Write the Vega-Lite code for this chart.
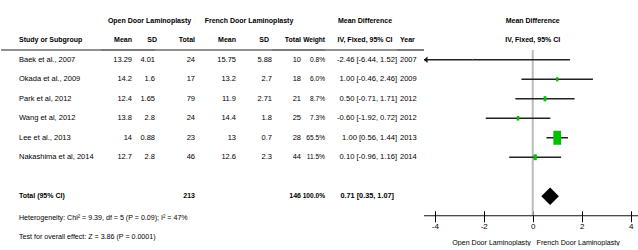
{
  "$schema": "https://vega.github.io/schema/vega-lite/v6.json",
  "background": "white",
  "padding": {"left": 0, "top": 11, "right": 0, "bottom": 0},
  "datasets": {
    "tbl": [
      {"row": "h1", "kind": "group", "og": "Open Door Laminoplasty", "fg": "French Door Laminoplasty", "mdh": "Mean Difference"},
      {"row": "h2", "kind": "head", "study": "Study or Subgroup", "om": "Mean", "osd": "SD", "on": "Total", "fm": "Mean", "fsd": "SD", "fn": "Total", "w": "Weight", "mdh": "IV, Fixed, 95% CI", "yr": "Year"},
      {"row": "Baek", "kind": "study", "study": "Baek et al., 2007", "om": 13.29, "osd": 4.01, "on": 24, "fm": 15.75, "fsd": 5.88, "fn": 10, "w": "0.8%", "wt": 0.8, "ci": "-2.46 [-6.44, 1.52]", "md": -2.46, "lo": -6.44, "hi": 1.52, "yr": 2007},
      {"row": "Okada", "kind": "study", "study": "Okada et al., 2009", "om": 14.2, "osd": 1.6, "on": 17, "fm": 13.2, "fsd": 2.7, "fn": 18, "w": "6.0%", "wt": 6.0, "ci": "1.00 [-0.46, 2.46]", "md": 1.0, "lo": -0.46, "hi": 2.46, "yr": 2009},
      {"row": "Park", "kind": "study", "study": "Park et al, 2012", "om": 12.4, "osd": 1.65, "on": 79, "fm": 11.9, "fsd": 2.71, "fn": 21, "w": "8.7%", "wt": 8.7, "ci": "0.50 [-0.71, 1.71]", "md": 0.5, "lo": -0.71, "hi": 1.71, "yr": 2012},
      {"row": "Wang", "kind": "study", "study": "Wang et al, 2012", "om": 13.8, "osd": 2.8, "on": 24, "fm": 14.4, "fsd": 1.8, "fn": 25, "w": "7.3%", "wt": 7.3, "ci": "-0.60 [-1.92, 0.72]", "md": -0.6, "lo": -1.92, "hi": 0.72, "yr": 2012},
      {"row": "Lee", "kind": "study", "study": "Lee et al., 2013", "om": 14, "osd": 0.88, "on": 23, "fm": 13, "fsd": 0.7, "fn": 28, "w": "65.5%", "wt": 65.5, "ci": "1.00 [0.56, 1.44]", "md": 1.0, "lo": 0.56, "hi": 1.44, "yr": 2013},
      {"row": "Naka", "kind": "study", "study": "Nakashima et al, 2014", "om": 12.7, "osd": 2.8, "on": 46, "fm": 12.6, "fsd": 2.3, "fn": 44, "w": "11.5%", "wt": 11.5, "ci": "0.10 [-0.96, 1.16]", "md": 0.1, "lo": -0.96, "hi": 1.16, "yr": 2014},
      {"row": "Total", "kind": "total", "study": "Total (95% CI)", "on": 213, "fn": 146, "w": "100.0%", "wt": 100, "ci": "0.71 [0.35, 1.07]", "md": 0.71, "lo": 0.35, "hi": 1.07},
      {"row": "Het", "kind": "note", "study": "Heterogeneity: Chi² = 9.39, df = 5 (P = 0.09); I² = 47%"},
      {"row": "Test", "kind": "note", "study": "Test for overall effect: Z = 3.86 (P = 0.0001)"}
    ]
  },
  "data": {"name": "tbl"},
  "spacing": 0,
  "bounds": "flush",
  "resolve": {"scale": {"x": "independent", "y": "independent"}},
  "hconcat": [
    {
      "width": 100, "height": 234,
      "layer": [
        {"data": {"values": [{}]}, "mark": {"type": "rule", "color": "#222", "strokeWidth": 1.2}, "encoding": {"y": {"datum": "Baek", "type": "nominal", "bandPosition": 0, "scale": {"type": "band", "domain": ["h1","h2","Baek","Okada","Park","Wang","Lee","Naka","blank","Total","Het","Test"], "paddingInner": 0, "paddingOuter": 0}, "axis": null}}},
        {"transform": [{"filter": "datum.kind=='study'"}], "mark": {"type": "text", "align": "left", "dx": 18, "fontSize": 7.5}, "encoding": {"x": {"value": 0}, "y": {"field": "row", "type": "nominal", "scale": {"type": "band", "domain": ["h1","h2","Baek","Okada","Park","Wang","Lee","Naka","blank","Total","Het","Test"], "paddingInner": 0, "paddingOuter": 0}, "axis": null}, "text": {"field": "study", "type": "nominal"}}},
        {"transform": [{"filter": "datum.kind=='note'"}], "mark": {"type": "text", "align": "left", "dx": 18, "dy": 2, "fontSize": 7.1}, "encoding": {"x": {"value": 0}, "y": {"field": "row", "type": "nominal", "scale": {"type": "band", "domain": ["h1","h2","Baek","Okada","Park","Wang","Lee","Naka","blank","Total","Het","Test"], "paddingInner": 0, "paddingOuter": 0}, "axis": null}, "text": {"field": "study", "type": "nominal"}}},
        {"transform": [{"filter": "datum.kind=='head'||datum.kind=='total'"}], "mark": {"type": "text", "align": "left", "dx": 18, "fontWeight": "bold", "fontSize": 7}, "encoding": {"x": {"value": 0}, "y": {"field": "row", "type": "nominal", "scale": {"type": "band", "domain": ["h1","h2","Baek","Okada","Park","Wang","Lee","Naka","blank","Total","Het","Test"], "paddingInner": 0, "paddingOuter": 0}, "axis": null}, "text": {"field": "study", "type": "nominal"}}}
      ]
    },
    {
      "width": 31, "height": 234,
      "layer": [
        {"data": {"values": [{}]}, "mark": {"type": "rule", "color": "#222", "strokeWidth": 1.2}, "encoding": {"y": {"datum": "Baek", "type": "nominal", "bandPosition": 0, "scale": {"type": "band", "domain": ["h1","h2","Baek","Okada","Park","Wang","Lee","Naka","blank","Total","Het","Test"], "paddingInner": 0, "paddingOuter": 0}, "axis": null}}},
        {"transform": [{"filter": "datum.kind=='study' && isValid(datum.om)"}], "mark": {"type": "text", "align": "right"}, "encoding": {"x": {"value": "width"}, "y": {"field": "row", "type": "nominal", "scale": {"type": "band", "domain": ["h1","h2","Baek","Okada","Park","Wang","Lee","Naka","blank","Total","Het","Test"], "paddingInner": 0, "paddingOuter": 0}, "axis": null}, "text": {"field": "om", "type": "nominal"}}},
        {"transform": [{"filter": "(datum.kind=='head'||datum.kind=='total') && isValid(datum.om)"}], "mark": {"type": "text", "align": "right", "fontWeight": "bold", "fontSize": 7}, "encoding": {"x": {"value": "width"}, "y": {"field": "row", "type": "nominal", "scale": {"type": "band", "domain": ["h1","h2","Baek","Okada","Park","Wang","Lee","Naka","blank","Total","Het","Test"], "paddingInner": 0, "paddingOuter": 0}, "axis": null}, "text": {"field": "om", "type": "nominal"}}}
      ]
    },
    {
      "width": 23, "height": 234,
      "layer": [
        {"data": {"values": [{}]}, "mark": {"type": "rule", "color": "#222", "strokeWidth": 1.2}, "encoding": {"y": {"datum": "Baek", "type": "nominal", "bandPosition": 0, "scale": {"type": "band", "domain": ["h1","h2","Baek","Okada","Park","Wang","Lee","Naka","blank","Total","Het","Test"], "paddingInner": 0, "paddingOuter": 0}, "axis": null}}},
        {"transform": [{"filter": "datum.kind=='study' && isValid(datum.osd)"}], "mark": {"type": "text", "align": "right"}, "encoding": {"x": {"value": "width"}, "y": {"field": "row", "type": "nominal", "scale": {"type": "band", "domain": ["h1","h2","Baek","Okada","Park","Wang","Lee","Naka","blank","Total","Het","Test"], "paddingInner": 0, "paddingOuter": 0}, "axis": null}, "text": {"field": "osd", "type": "nominal"}}},
        {"transform": [{"filter": "(datum.kind=='head'||datum.kind=='total') && isValid(datum.osd)"}], "mark": {"type": "text", "align": "right", "fontWeight": "bold", "fontSize": 7, "dx": 2}, "encoding": {"x": {"value": "width"}, "y": {"field": "row", "type": "nominal", "scale": {"type": "band", "domain": ["h1","h2","Baek","Okada","Park","Wang","Lee","Naka","blank","Total","Het","Test"], "paddingInner": 0, "paddingOuter": 0}, "axis": null}, "text": {"field": "osd", "type": "nominal"}}},
        {"transform": [{"filter": "datum.kind=='group' && isValid(datum.og)"}], "mark": {"type": "text", "align": "center", "dx": 6, "fontWeight": "bold", "fontSize": 7}, "encoding": {"y": {"field": "row", "type": "nominal", "scale": {"type": "band", "domain": ["h1","h2","Baek","Okada","Park","Wang","Lee","Naka","blank","Total","Het","Test"], "paddingInner": 0, "paddingOuter": 0}, "axis": null}, "text": {"field": "og", "type": "nominal"}}}
      ]
    },
    {
      "width": 40, "height": 234,
      "layer": [
        {"data": {"values": [{}]}, "mark": {"type": "rule", "color": "#222", "strokeWidth": 1.2}, "encoding": {"y": {"datum": "Baek", "type": "nominal", "bandPosition": 0, "scale": {"type": "band", "domain": ["h1","h2","Baek","Okada","Park","Wang","Lee","Naka","blank","Total","Het","Test"], "paddingInner": 0, "paddingOuter": 0}, "axis": null}}},
        {"transform": [{"filter": "datum.kind=='study' && isValid(datum.on)"}], "mark": {"type": "text", "align": "right"}, "encoding": {"x": {"value": "width"}, "y": {"field": "row", "type": "nominal", "scale": {"type": "band", "domain": ["h1","h2","Baek","Okada","Park","Wang","Lee","Naka","blank","Total","Het","Test"], "paddingInner": 0, "paddingOuter": 0}, "axis": null}, "text": {"field": "on", "type": "nominal"}}},
        {"transform": [{"filter": "(datum.kind=='head'||datum.kind=='total') && isValid(datum.on)"}], "mark": {"type": "text", "align": "right", "fontWeight": "bold", "fontSize": 7}, "encoding": {"x": {"value": "width"}, "y": {"field": "row", "type": "nominal", "scale": {"type": "band", "domain": ["h1","h2","Baek","Okada","Park","Wang","Lee","Naka","blank","Total","Het","Test"], "paddingInner": 0, "paddingOuter": 0}, "axis": null}, "text": {"field": "on", "type": "nominal"}}}
      ]
    },
    {
      "width": 41, "height": 234,
      "layer": [
        {"data": {"values": [{}]}, "mark": {"type": "rule", "color": "#222", "strokeWidth": 1.2}, "encoding": {"y": {"datum": "Baek", "type": "nominal", "bandPosition": 0, "scale": {"type": "band", "domain": ["h1","h2","Baek","Okada","Park","Wang","Lee","Naka","blank","Total","Het","Test"], "paddingInner": 0, "paddingOuter": 0}, "axis": null}}},
        {"transform": [{"filter": "datum.kind=='study' && isValid(datum.fm)"}], "mark": {"type": "text", "align": "right"}, "encoding": {"x": {"value": "width"}, "y": {"field": "row", "type": "nominal", "scale": {"type": "band", "domain": ["h1","h2","Baek","Okada","Park","Wang","Lee","Naka","blank","Total","Het","Test"], "paddingInner": 0, "paddingOuter": 0}, "axis": null}, "text": {"field": "fm", "type": "nominal"}}},
        {"transform": [{"filter": "(datum.kind=='head'||datum.kind=='total') && isValid(datum.fm)"}], "mark": {"type": "text", "align": "right", "fontWeight": "bold", "fontSize": 7}, "encoding": {"x": {"value": "width"}, "y": {"field": "row", "type": "nominal", "scale": {"type": "band", "domain": ["h1","h2","Baek","Okada","Park","Wang","Lee","Naka","blank","Total","Het","Test"], "paddingInner": 0, "paddingOuter": 0}, "axis": null}, "text": {"field": "fm", "type": "nominal"}}}
      ]
    },
    {
      "width": 36, "height": 234,
      "layer": [
        {"data": {"values": [{}]}, "mark": {"type": "rule", "color": "#222", "strokeWidth": 1.2}, "encoding": {"y": {"datum": "Baek", "type": "nominal", "bandPosition": 0, "scale": {"type": "band", "domain": ["h1","h2","Baek","Okada","Park","Wang","Lee","Naka","blank","Total","Het","Test"], "paddingInner": 0, "paddingOuter": 0}, "axis": null}}},
        {"transform": [{"filter": "datum.kind=='study' && isValid(datum.fsd)"}], "mark": {"type": "text", "align": "right"}, "encoding": {"x": {"value": "width"}, "y": {"field": "row", "type": "nominal", "scale": {"type": "band", "domain": ["h1","h2","Baek","Okada","Park","Wang","Lee","Naka","blank","Total","Het","Test"], "paddingInner": 0, "paddingOuter": 0}, "axis": null}, "text": {"field": "fsd", "type": "nominal"}}},
        {"transform": [{"filter": "(datum.kind=='head'||datum.kind=='total') && isValid(datum.fsd)"}], "mark": {"type": "text", "align": "right", "fontWeight": "bold", "fontSize": 7, "dx": -3}, "encoding": {"x": {"value": "width"}, "y": {"field": "row", "type": "nominal", "scale": {"type": "band", "domain": ["h1","h2","Baek","Okada","Park","Wang","Lee","Naka","blank","Total","Het","Test"], "paddingInner": 0, "paddingOuter": 0}, "axis": null}, "text": {"field": "fsd", "type": "nominal"}}},
        {"transform": [{"filter": "datum.kind=='group' && isValid(datum.fg)"}], "mark": {"type": "text", "align": "center", "dx": -5, "fontWeight": "bold", "fontSize": 7}, "encoding": {"y": {"field": "row", "type": "nominal", "scale": {"type": "band", "domain": ["h1","h2","Baek","Okada","Park","Wang","Lee","Naka","blank","Total","Het","Test"], "paddingInner": 0, "paddingOuter": 0}, "axis": null}, "text": {"field": "fg", "type": "nominal"}}}
      ]
    },
    {
      "width": 29, "height": 234,
      "layer": [
        {"data": {"values": [{}]}, "mark": {"type": "rule", "color": "#222", "strokeWidth": 1.2}, "encoding": {"y": {"datum": "Baek", "type": "nominal", "bandPosition": 0, "scale": {"type": "band", "domain": ["h1","h2","Baek","Okada","Park","Wang","Lee","Naka","blank","Total","Het","Test"], "paddingInner": 0, "paddingOuter": 0}, "axis": null}}},
        {"transform": [{"filter": "datum.kind=='study' && isValid(datum.fn)"}], "mark": {"type": "text", "align": "right"}, "encoding": {"x": {"value": "width"}, "y": {"field": "row", "type": "nominal", "scale": {"type": "band", "domain": ["h1","h2","Baek","Okada","Park","Wang","Lee","Naka","blank","Total","Het","Test"], "paddingInner": 0, "paddingOuter": 0}, "axis": null}, "text": {"field": "fn", "type": "nominal"}}},
        {"transform": [{"filter": "(datum.kind=='head'||datum.kind=='total') && isValid(datum.fn)"}], "mark": {"type": "text", "align": "right", "fontWeight": "bold", "fontSize": 7}, "encoding": {"x": {"value": "width"}, "y": {"field": "row", "type": "nominal", "scale": {"type": "band", "domain": ["h1","h2","Baek","Okada","Park","Wang","Lee","Naka","blank","Total","Het","Test"], "paddingInner": 0, "paddingOuter": 0}, "axis": null}, "text": {"field": "fn", "type": "nominal"}}}
      ]
    },
    {
      "width": 24, "height": 234,
      "layer": [
        {"data": {"values": [{}]}, "mark": {"type": "rule", "color": "#222", "strokeWidth": 1.2}, "encoding": {"y": {"datum": "Baek", "type": "nominal", "bandPosition": 0, "scale": {"type": "band", "domain": ["h1","h2","Baek","Okada","Park","Wang","Lee","Naka","blank","Total","Het","Test"], "paddingInner": 0, "paddingOuter": 0}, "axis": null}}},
        {"transform": [{"filter": "datum.kind=='study' && isValid(datum.w)"}], "mark": {"type": "text", "align": "right", "fontSize": 6.6}, "encoding": {"x": {"value": "width"}, "y": {"field": "row", "type": "nominal", "scale": {"type": "band", "domain": ["h1","h2","Baek","Okada","Park","Wang","Lee","Naka","blank","Total","Het","Test"], "paddingInner": 0, "paddingOuter": 0}, "axis": null}, "text": {"field": "w", "type": "nominal"}}},
        {"transform": [{"filter": "(datum.kind=='head'||datum.kind=='total') && isValid(datum.w)"}], "mark": {"type": "text", "align": "right", "fontWeight": "bold", "fontSize": 6.6}, "encoding": {"x": {"value": "width"}, "y": {"field": "row", "type": "nominal", "scale": {"type": "band", "domain": ["h1","h2","Baek","Okada","Park","Wang","Lee","Naka","blank","Total","Het","Test"], "paddingInner": 0, "paddingOuter": 0}, "axis": null}, "text": {"field": "w", "type": "nominal"}}}
      ]
    },
    {
      "width": 72, "height": 234,
      "layer": [
        {"data": {"values": [{}]}, "mark": {"type": "rule", "color": "#222", "strokeWidth": 1.2}, "encoding": {"y": {"datum": "Baek", "type": "nominal", "bandPosition": 0, "scale": {"type": "band", "domain": ["h1","h2","Baek","Okada","Park","Wang","Lee","Naka","blank","Total","Het","Test"], "paddingInner": 0, "paddingOuter": 0}, "axis": null}}},
        {"transform": [{"filter": "datum.kind=='study' && isValid(datum.ci)"}], "mark": {"type": "text", "align": "right", "fontSize": 7.6}, "encoding": {"x": {"value": "width"}, "y": {"field": "row", "type": "nominal", "scale": {"type": "band", "domain": ["h1","h2","Baek","Okada","Park","Wang","Lee","Naka","blank","Total","Het","Test"], "paddingInner": 0, "paddingOuter": 0}, "axis": null}, "text": {"field": "ci", "type": "nominal"}}},
        {"transform": [{"filter": "datum.kind=='total' && isValid(datum.ci)"}], "mark": {"type": "text", "align": "right", "fontWeight": "bold", "fontSize": 7.3, "dx": -3}, "encoding": {"x": {"value": "width"}, "y": {"field": "row", "type": "nominal", "scale": {"type": "band", "domain": ["h1","h2","Baek","Okada","Park","Wang","Lee","Naka","blank","Total","Het","Test"], "paddingInner": 0, "paddingOuter": 0}, "axis": null}, "text": {"field": "ci", "type": "nominal"}}},
        {"transform": [{"filter": "(datum.kind=='group'||datum.kind=='head') && isValid(datum.mdh)"}], "mark": {"type": "text", "align": "center", "dx": 4, "fontWeight": "bold", "fontSize": 7}, "encoding": {"y": {"field": "row", "type": "nominal", "scale": {"type": "band", "domain": ["h1","h2","Baek","Okada","Park","Wang","Lee","Naka","blank","Total","Het","Test"], "paddingInner": 0, "paddingOuter": 0}, "axis": null}, "text": {"field": "mdh", "type": "nominal"}}}
      ]
    },
    {
      "width": 27, "height": 234,
      "layer": [
        {"data": {"values": [{}]}, "mark": {"type": "rule", "color": "#222", "strokeWidth": 1.2}, "encoding": {"y": {"datum": "Baek", "type": "nominal", "bandPosition": 0, "scale": {"type": "band", "domain": ["h1","h2","Baek","Okada","Park","Wang","Lee","Naka","blank","Total","Het","Test"], "paddingInner": 0, "paddingOuter": 0}, "axis": null}}},
        {"transform": [{"filter": "datum.kind=='study' && isValid(datum.yr)"}], "mark": {"type": "text", "align": "left", "dx": 3}, "encoding": {"x": {"value": 0}, "y": {"field": "row", "type": "nominal", "scale": {"type": "band", "domain": ["h1","h2","Baek","Okada","Park","Wang","Lee","Naka","blank","Total","Het","Test"], "paddingInner": 0, "paddingOuter": 0}, "axis": null}, "text": {"field": "yr", "type": "nominal"}}},
        {"transform": [{"filter": "datum.kind=='head' && isValid(datum.yr)"}], "mark": {"type": "text", "align": "left", "dx": 3, "fontWeight": "bold", "fontSize": 7}, "encoding": {"x": {"value": 0}, "y": {"field": "row", "type": "nominal", "scale": {"type": "band", "domain": ["h1","h2","Baek","Okada","Park","Wang","Lee","Naka","blank","Total","Het","Test"], "paddingInner": 0, "paddingOuter": 0}, "axis": null}, "text": {"field": "yr", "type": "nominal"}}}
      ]
    },
    {
      "width": 215, "height": 204.75,
      "layer": [
        {"data": {"values": [{}]}, "mark": {"type": "rule", "color": "#bbbbbb", "strokeWidth": 2}, "encoding": {"x": {"datum": 0, "type": "quantitative", "scale": {"domain": [-4.44, 4.34], "nice": false, "zero": false, "clamp": true},
                "axis": {"values": [-4, -2, 0, 2, 4], "domain": false, "grid": false, "tickSize": 11, "offset": -5, "tickColor": "#000", "tickWidth": 1, "labelFontSize": 8, "labelColor": "#000", "labelPadding": 1, "labelExpr": "'' + datum.value", "title": "Open Door Laminoplasty\u00a0\u00a0\u00a0French Door Laminoplasty", "titleFontSize": 7.1, "titleFontWeight": "normal", "titleColor": "#000", "titlePadding": 8, "titleX": 111.5}}, "y": {"datum": "Baek", "type": "nominal", "bandPosition": 0, "scale": {"type": "band", "domain": ["h1","h2","Baek","Okada","Park","Wang","Lee","Naka","blank","Total"], "paddingInner": 0, "paddingOuter": 0.25, "align": 0}, "axis": null}, "y2": {"value": "height"}}},
        {"data": {"values": [{}]}, "mark": {"type": "rule", "color": "#111", "strokeWidth": 1.2}, "encoding": {"y": {"value": "height"}}},
        {"transform": [{"filter": "datum.kind=='study'"}], "mark": {"type": "rule", "color": "#222", "strokeWidth": 1.5}, "encoding": {
          "x": {"field": "lo", "type": "quantitative", "scale": {"domain": [-4.44, 4.34], "nice": false, "zero": false, "clamp": true},
                "axis": {"values": [-4, -2, 0, 2, 4], "domain": false, "grid": false, "tickSize": 11, "offset": -5, "tickColor": "#000", "tickWidth": 1, "labelFontSize": 8, "labelColor": "#000", "labelPadding": 1, "labelExpr": "'' + datum.value", "title": "Open Door Laminoplasty\u00a0\u00a0\u00a0French Door Laminoplasty", "titleFontSize": 7.1, "titleFontWeight": "normal", "titleColor": "#000", "titlePadding": 8, "titleX": 111.5}},
          "x2": {"field": "hi"},
          "y": {"field": "row", "type": "nominal", "scale": {"type": "band", "domain": ["h1","h2","Baek","Okada","Park","Wang","Lee","Naka","blank","Total"], "paddingInner": 0, "paddingOuter": 0.25, "align": 0}, "axis": null}}},
        {"transform": [{"filter": "datum.kind=='study' && datum.lo < -4.44"}], "mark": {"type": "point", "shape": "M0,0L1.1,-1L1.1,1Z", "filled": true, "color": "#111", "opacity": 1, "size": 40}, "encoding": {"x": {"field": "lo", "type": "quantitative", "scale": {"domain": [-4.44, 4.34], "nice": false, "zero": false, "clamp": true}}, "y": {"field": "row", "type": "nominal", "scale": {"type": "band", "domain": ["h1","h2","Baek","Okada","Park","Wang","Lee","Naka","blank","Total"], "paddingInner": 0, "paddingOuter": 0.25, "align": 0}, "axis": null}}},
        {"transform": [{"filter": "datum.kind=='study'"}], "mark": {"type": "point", "shape": "M-0.55,-1L0.55,-1L0.55,1L-0.55,1Z", "filled": true, "color": "#00c000", "opacity": 1, "strokeWidth": 0}, "encoding": {"x": {"field": "md", "type": "quantitative", "scale": {"domain": [-4.44, 4.34], "nice": false, "zero": false, "clamp": true}}, "y": {"field": "row", "type": "nominal", "scale": {"type": "band", "domain": ["h1","h2","Baek","Okada","Park","Wang","Lee","Naka","blank","Total"], "paddingInner": 0, "paddingOuter": 0.25, "align": 0}, "axis": null}, "size": {"field": "wt", "type": "quantitative", "scale": {"type": "linear", "domain": [0, 100], "range": [0, 299]}, "legend": null}}},
        {"transform": [{"filter": "datum.kind=='total'"}], "mark": {"type": "point", "shape": "diamond", "filled": true, "color": "#000", "opacity": 1, "size": 310}, "encoding": {"x": {"field": "md", "type": "quantitative", "scale": {"domain": [-4.44, 4.34], "nice": false, "zero": false, "clamp": true}}, "y": {"field": "row", "type": "nominal", "scale": {"type": "band", "domain": ["h1","h2","Baek","Okada","Park","Wang","Lee","Naka","blank","Total"], "paddingInner": 0, "paddingOuter": 0.25, "align": 0}, "axis": null}}},
        {"transform": [{"filter": "(datum.kind=='group'||datum.kind=='head') && isValid(datum.mdh)"}], "mark": {"type": "text", "align": "center", "fontWeight": "bold", "fontSize": 7}, "encoding": {"x": {"datum": 0, "type": "quantitative", "scale": {"domain": [-4.44, 4.34], "nice": false, "zero": false, "clamp": true}}, "y": {"field": "row", "type": "nominal", "scale": {"type": "band", "domain": ["h1","h2","Baek","Okada","Park","Wang","Lee","Naka","blank","Total"], "paddingInner": 0, "paddingOuter": 0.25, "align": 0}, "axis": null}, "text": {"field": "mdh", "type": "nominal"}}}
      ]
    }
  ],
  "config": {
    "view": {"stroke": null},
    "text": {"font": "Liberation Sans", "fontSize": 7.5, "color": "#000", "baseline": "middle"},
    "axis": {"labelFont": "Liberation Sans", "titleFont": "Liberation Sans"}
  }
}
